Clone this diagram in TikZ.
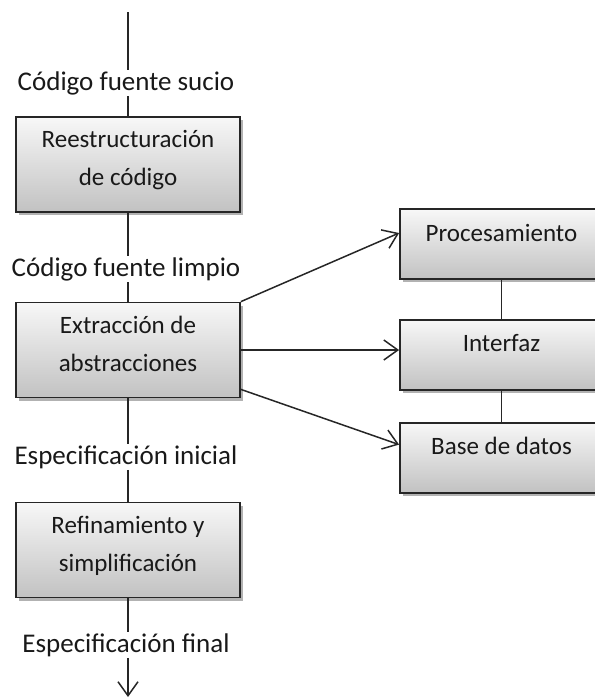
\documentclass[tikz,border=0pt]{standalone}
\usepackage{fontspec}
\setmainfont{Carlito}
\usetikzlibrary{positioning,arrows.meta,shadows,calc}

\begin{document}
\begin{tikzpicture}[
x=0.5pt, y=-0.5pt,
font=\fontsize{12.5}{19}\selectfont,
box/.style={rectangle, draw=black!85, line width=0.9pt, top color=gray!6, bottom color=gray!48,
  drop shadow={shadow xshift=1.5pt, shadow yshift=-1.5pt, opacity=0.3, fill=black},
  align=center, inner sep=0pt, text=black!90},
stagebox/.style={box, minimum width=112pt, minimum height=47.5pt, text height=27pt, text depth=6pt},
partbox/.style={box, minimum width=101.5pt, minimum height=35pt, text height=9pt, text depth=12pt},
lbl/.style={inner xsep=2pt, inner ysep=0.5pt, text=black!90, font=\fontsize{13.5}{16}\selectfont},
link/.style={line width=0.75pt, draw=black!85},
flow/.style={link, -{Straight Barb[length=7pt,width=10pt]}}
]
\useasboundingbox (0,0) rectangle (595,698);

% left column
\node[lbl] (sucio) at (126,83) {Código fuente sucio};
\node[stagebox] (reest) at (128,164.5) {Reestructuración\\de código};
\node[lbl] (limpio) at (126,269) {Código fuente limpio};
\node[stagebox] (extr) at (128,350) {Extracción de\\abstracciones};
\node[lbl] (inicial) at (126,457) {Especificación inicial};
\node[stagebox] (refin) at (128,550) {Refinamiento y\\simplificación};
\node[lbl] (final) at (126,645) {Especificación final};

\coordinate (src) at (128,12);
\coordinate (sink) at (128,697);

% right column
\node[partbox] (proc) at (501.5,244) {Procesamiento};
\node[partbox, below=19.5pt of proc] (inter) {Interfaz};
\node[partbox, below=15.5pt of inter] (base) {Base de datos};

\draw[link] (src) -- (src |- sucio.north);
\draw[link] (src |- sucio.south) -- (reest);
\draw[link] (reest) -- (reest |- limpio.north);
\draw[link] (reest |- limpio.south) -- (extr);
\draw[link] (extr) -- (extr |- inicial.north);
\draw[link] (extr |- inicial.south) -- (refin);
\draw[link] (refin) -- (refin |- final.north);
\draw[flow] (refin |- final.south) -- (sink);

\draw[flow] (extr.north east) -- ($(proc.west)+(0,-11)$);
\draw[flow] (extr.east) -- (extr.east -| inter.west);
\draw[flow] ($(extr.south east)+(0,-9)$) -- ($(base.west)+(0,-13)$);

\draw[link] (proc) -- (inter);
\draw[link] (inter) -- (base);

\end{tikzpicture}
\end{document}
